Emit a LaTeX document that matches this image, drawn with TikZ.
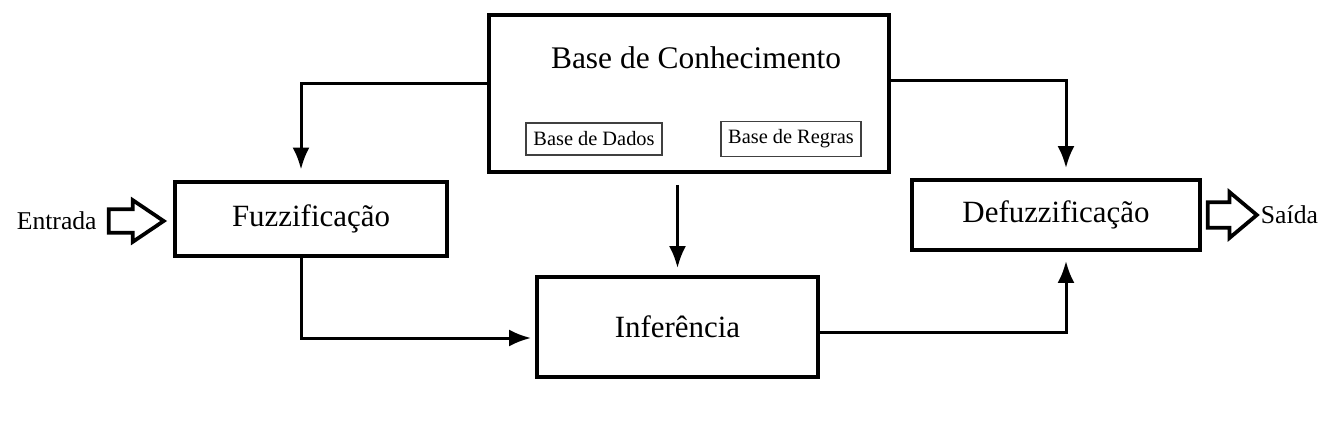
\documentclass[tikz,border=0pt]{standalone}
\usepackage{fontspec}
\setmainfont{Liberation Serif}
\usetikzlibrary{positioning,arrows.meta,shapes.arrows}

\begin{document}
\begin{tikzpicture}[x=0.02cm, y=-0.02cm,
  bloco/.style={draw, line width=0.08cm, font=\fontsize{17.6}{20}\selectfont},
  caixinha/.style={draw=black!75, line width=0.03cm, font=\fontsize{11.6}{13}\selectfont},
  seta/.style={-{Latex[length=0.44cm,width=0.34cm]}, line width=0.06cm},
  vazada/.style={draw, single arrow, line width=0.075cm, inner xsep=0pt},
  rotulo/.style={font=\fontsize{14.6}{16}\selectfont}]
\useasboundingbox (0,0) rectangle (1326,426);
\node (1)[bloco, minimum width=8cm, minimum height=3.14cm] at (689,93.5) {};
\node (2)[font=\fontsize{17.9}{20}\selectfont] at (696,58) {Base de Conhecimento};
\node (3)[caixinha, minimum width=2.72cm, minimum height=0.64cm] at (594,139) {Base de Dados};
\node (4)[caixinha, minimum width=2.8cm, minimum height=0.7cm] at (791,139) {Base de Regras};
\node (5)[bloco, minimum width=5.44cm, minimum height=1.5cm] at (311,219) {Fuzzificação};
\node (6)[bloco, minimum width=5.62cm, minimum height=2cm] at (677.5,327) {Inferência};
\node (7)[bloco, minimum width=5.76cm, minimum height=1.4cm] at (1056,215) {Defuzzificação};
\node (8)[vazada, inner ysep=0.2cm, single arrow head extend=0.18cm, single arrow tip angle=68, minimum height=1.1cm] [left=0.12cm of 5, yshift=-0.04cm] {};
\node (9)[rotulo] [left=0.08cm of 8] {Entrada};
\node (10)[vazada, inner ysep=0.22cm, single arrow head extend=0.2cm, single arrow tip angle=80, minimum height=0.98cm] [right=0.08cm of 7] {};
\node (11)[rotulo] [right=-0.1cm of 10] {Saída};
\draw[seta, shorten >=0.2cm] ([yshift=0.2cm]1.west) -| ([xshift=-0.2cm]5.north);
\draw[seta, shorten >=0.2cm] ([yshift=0.27cm]1.east) -| ([xshift=0.2cm]7.north);
\draw[seta, shorten <=0.22cm, shorten >=0.14cm] (6.north |- 1.south) -- (6.north);
\draw[seta, shorten >=0.08cm] ([xshift=-0.2cm]5.south) |- ([yshift=-0.22cm]6.west);
\draw[seta, shorten >=0.18cm] ([yshift=-0.1cm]6.east) -| ([xshift=0.2cm]7.south);
\end{tikzpicture}
\end{document}
